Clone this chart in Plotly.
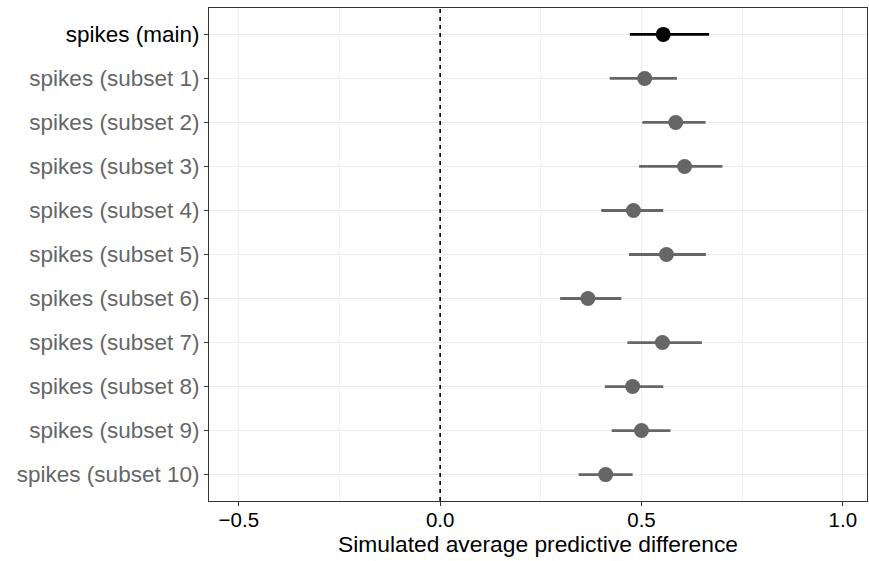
import plotly.graph_objects as go

categories = ["spikes (main)"] + [f"spikes (subset {i})" for i in range(1, 11)]
estimates = [0.554, 0.508, 0.585, 0.607, 0.480, 0.562, 0.367, 0.552, 0.478, 0.500, 0.411]
lower = [0.471, 0.421, 0.502, 0.494, 0.400, 0.469, 0.298, 0.465, 0.409, 0.426, 0.344]
upper = [0.668, 0.588, 0.659, 0.701, 0.554, 0.660, 0.450, 0.650, 0.554, 0.572, 0.478]
is_main = [True] + [False] * 10
x_ticks = [-0.5, 0.0, 0.5, 1.0]
x_tick_labels = ["\u22120.5", "0.0", "0.5", "1.0"]

MAIN_COLOR = "black"
SUB_COLOR = "#666666"
pos = list(range(1, len(categories) + 1))

fig = go.Figure()
for flag, color in [(False, SUB_COLOR), (True, MAIN_COLOR)]:
    idx = [i for i in range(len(categories)) if is_main[i] == flag]
    fig.add_trace(go.Scatter(
        x=[estimates[i] for i in idx],
        y=[pos[i] for i in idx],
        mode="markers",
        marker=dict(size=15, color=color),
        error_x=dict(
            type="data", symmetric=False,
            array=[upper[i] - estimates[i] for i in idx],
            arrayminus=[estimates[i] - lower[i] for i in idx],
            width=0, thickness=2.8, color=color,
        ),
        showlegend=False,
        hoverinfo="skip",
    ))

# reference line at zero
fig.add_shape(type="line", x0=0, x1=0, y0=0, y1=1, xref="x", yref="paper",
              line=dict(color="black", width=1.6, dash="4px,4px"), layer="above")

ticktext = [
    f'<span style="color:{MAIN_COLOR if m else SUB_COLOR}">{c}</span>'
    for c, m in zip(categories, is_main)
]

fig.update_layout(
    width=869, height=561,
    margin=dict(l=209, r=2, t=8, b=60),
    paper_bgcolor="white", plot_bgcolor="white",
    font=dict(family="Liberation Sans, Arial, sans-serif", size=22, color="black"),
    xaxis=dict(
        range=[-0.574, 1.06],
        tickvals=x_ticks, ticktext=x_tick_labels,
        showgrid=True, gridcolor="#ebebeb", gridwidth=1.1,
        minor=dict(tickvals=[-0.25, 0.25, 0.75], showgrid=True, gridcolor="#f2f2f2", gridwidth=0.6),
        zeroline=False,
        showline=True, linecolor="#333333", linewidth=1.1, mirror=True,
        ticks="outside", ticklen=4, tickcolor="#333333",
        ticklabelstandoff=-4,
        tickfont=dict(size=20.5, color="black"),
        title=dict(text="Simulated average predictive difference", font=dict(size=22.8), standoff=0),
    ),
    yaxis=dict(
        range=[11.6, 0.4],
        tickvals=pos, ticktext=ticktext,
        showgrid=True, gridcolor="#ebebeb", gridwidth=1.1,
        zeroline=False,
        showline=True, linecolor="#333333", linewidth=1.1, mirror=True,
        ticks="outside", ticklen=4, tickcolor="#333333",
        tickfont=dict(size=22.5),
    ),
)

fig.write_html("out.html", config={"displayModeBar": False},
               post_script="document.body.style.margin='0px';")
